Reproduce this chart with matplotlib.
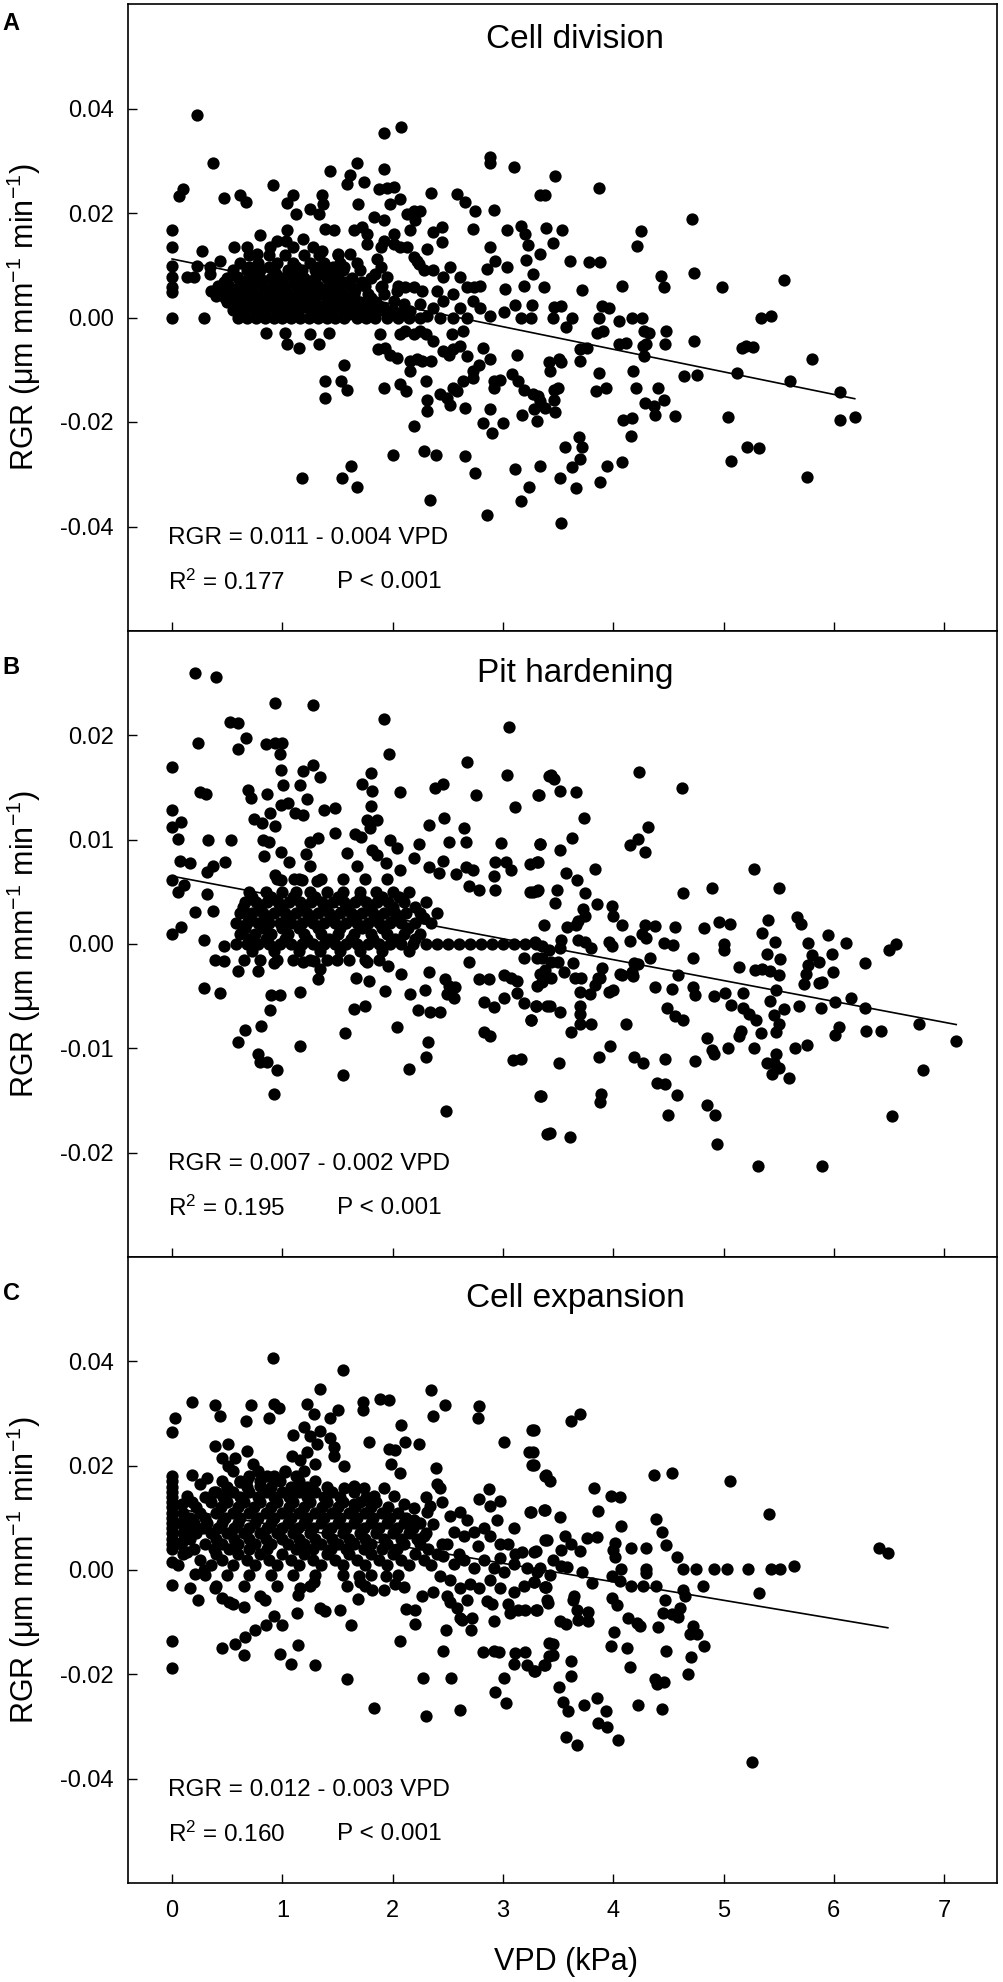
import matplotlib
matplotlib.use("Agg")
import matplotlib.pyplot as plt
from matplotlib.ticker import FormatStrFormatter

plt.rcParams['font.family'] = ['Liberation Sans', 'DejaVu Sans']
plt.rcParams['mathtext.fontset'] = 'custom'
plt.rcParams['mathtext.rm'] = 'Liberation Sans'
plt.rcParams['mathtext.it'] = 'Liberation Sans:italic'
plt.rcParams['axes.unicode_minus'] = False

# ---------------- data ----------------
titles = ["Cell division", "Pit hardening", "Cell expansion"]
letters = ["A", "B", "C"]
equations = ["RGR = 0.011 - 0.004 VPD", "RGR = 0.007 - 0.002 VPD", "RGR = 0.012 - 0.003 VPD"]
r2_texts = ["R$^2$ = 0.177", "R$^2$ = 0.195", "R$^2$ = 0.160"]
p_text = "P < 0.001"

fit_intercept = [0.0112, 0.0065, 0.0119]
fit_slope = [-0.00432, -0.0020, -0.00354]
fit_x_end = [6.19, 7.11, 6.49]

ylims = [(-0.06, 0.06), (-0.03, 0.03), (-0.06, 0.06)]
yticks = [[-0.04, -0.02, 0.0, 0.02, 0.04],
          [-0.02, -0.01, 0.0, 0.01, 0.02],
          [-0.04, -0.02, 0.0, 0.02, 0.04]]
xticks = [0, 1, 2, 3, 4, 5, 6, 7]

# panel A: cell division, scattered points (VPD, RGR)
a_pts = [
    (0.227, 0.0387), (0.372, 0.0296), (0.06, 0.0232), (0.10, 0.0246),
    (0.0, 0.0167), (0.0, 0.0135), (0.0, 0.0099), (0.0, 0.0077), (0.0, 0.0058), (0.0, 0.0048), (0.0, 0.0),
    (0.287, 0.0), (0.272, 0.0127), (0.227, 0.0099), (0.136, 0.0078), (0.196, 0.0078),
    (0.347, 0.0096), (0.347, 0.0083), (0.438, 0.0109), (0.35, 0.005), (0.40, 0.0042),
    (0.474, 0.0228), (0.62, 0.0234), (0.67, 0.0222), (0.915, 0.0254), (1.04, 0.0219), (1.10, 0.0234),
    (1.12, 0.0199), (1.25, 0.0208), (1.33, 0.0199), (1.36, 0.0234), (1.37, 0.0218), (1.43, 0.028),
    (1.39, 0.017), (1.47, 0.0167), (1.586, 0.0256), (1.616, 0.0272), (1.677, 0.0295), (1.737, 0.026),
    (1.69, 0.0217), (1.646, 0.0168), (1.72, 0.0173), (1.767, 0.016), (1.767, 0.0141),
    (1.92, 0.0354), (2.08, 0.0365), (1.92, 0.0284), (1.873, 0.0245), (1.949, 0.0247), (2.01, 0.025),
    (1.979, 0.0218), (2.07, 0.0226), (2.19, 0.0204), (2.25, 0.0204), (2.205, 0.0186),
    (2.35, 0.0238), (2.58, 0.0237), (2.66, 0.0221), (2.75, 0.0204), (2.73, 0.017), (2.885, 0.0308),
    (2.885, 0.0295), (2.92, 0.0205), (2.37, 0.0163), (2.447, 0.0174), (2.447, 0.0144), (2.31, 0.0131),
    (2.19, 0.0115), (2.885, 0.0135), (2.93, 0.0109), (2.855, 0.0093), (2.795, 0.0061), (2.734, 0.0058),
    (1.04, 0.0167), (0.95, 0.0147), (0.80, 0.0157), (0.56, 0.0135), (0.68, 0.0135), (0.77, 0.0122),
    (0.89, 0.0135), (1.03, 0.0147), (1.10, 0.0135), (1.19, 0.0151), (1.28, 0.0135), (1.36, 0.0128),
    (1.50, 0.0122), (1.556, 0.0096), (1.616, 0.0122), (1.86, 0.0112), (1.89, 0.0135), (1.92, 0.0147),
    (2.01, 0.0141), (2.07, 0.0135), (2.13, 0.0135), (2.22, 0.0109), (2.16, 0.0167), (1.83, 0.0192),
    (1.92, 0.0186), (2.13, 0.0199), (2.01, 0.016), (1.89, 0.0096), (1.95, 0.0077), (1.89, 0.0058),
    (1.84, 0.0083), (2.236, 0.0103), (2.28, 0.009), (2.37, 0.009), (2.46, 0.0077), (2.52, 0.0096),
    (2.61, 0.0077), (2.67, 0.0058), (2.55, 0.0045), (2.46, 0.0032), (2.37, 0.0019), (2.61, 0.0019),
    (2.73, 0.0032), (2.795, 0.0019), (2.885, 0.0003), (2.67, 0.0), (2.55, 0.0), (2.43, 0.0), (2.31, 0.0003),
    (2.04, 0.0051), (2.115, 0.0058), (2.19, 0.0058), (2.266, 0.0051), (2.40, 0.0051), (2.01, 0.0032),
    (2.10, 0.0026), (1.92, 0.0019), (1.767, 0.0032), (1.707, 0.0019), (1.646, 0.0006), (2.25, 0.0026),
    (2.16, 0.0013),
    (0.855, -0.0029), (1.027, -0.0029), (1.042, -0.0051), (1.148, -0.0058), (1.254, -0.0032),
    (1.33, -0.0051), (1.42, -0.0029), (1.56, -0.009), (1.39, -0.0122), (1.39, -0.0155), (1.53, -0.0122),
    (1.59, -0.0138), (1.18, -0.0308), (1.54, -0.0308), (1.62, -0.0285), (1.68, -0.0324),
    (1.867, -0.0061), (1.934, -0.0058), (1.979, -0.0071), (2.04, -0.0077), (1.888, -0.0032),
    (2.07, -0.0032), (2.115, -0.0026), (2.19, -0.0032), (2.25, -0.0026),
    (1.92, -0.0135), (2.07, -0.0128), (2.12, -0.0141), (2.19, -0.0208), (2.0, -0.0263), (2.28, -0.0256),
    (2.39, -0.0263), (2.34, -0.0349), (2.31, -0.0157), (2.31, -0.0179), (2.30, -0.0122),
    (2.43, -0.0147), (2.49, -0.0154), (2.52, -0.0167), (2.55, -0.0135), (2.58, -0.0141), (2.64, -0.0122),
    (2.66, -0.0266), (2.75, -0.0298), (2.66, -0.0173), (2.46, -0.0064), (2.51, -0.0071), (2.55, -0.0061),
    (2.61, -0.0054), (2.67, -0.0074), (2.73, -0.0103), (2.78, -0.009), (2.73, -0.0115),
    (2.82, -0.0058), (2.885, -0.008), (2.885, -0.0176), (2.915, -0.0135), (2.915, -0.0122),
    (2.82, -0.0202), (2.90, -0.0221), (2.16, -0.0083), (2.22, -0.008), (2.27, -0.0083), (2.35, -0.0083),
    (2.16, -0.0103), (2.30, -0.0032), (2.37, -0.0045), (2.54, -0.0032), (2.64, -0.0026),
    (2.855, -0.0378), (3.53, -0.0394),
    (3.096, 0.0288), (3.47, 0.0271), (3.87, 0.0247), (3.34, 0.0235), (3.38, 0.0235), (4.71, 0.0189),
    (3.04, 0.0167), (3.16, 0.0175), (3.20, 0.016), (3.23, 0.0138), (3.39, 0.0171), (3.54, 0.0167),
    (3.45, 0.0143), (3.34, 0.0121), (3.21, 0.011), (3.61, 0.0109), (3.78, 0.0106), (3.88, 0.0106),
    (4.25, 0.0165), (4.22, 0.0137), (4.73, 0.0085), (4.43, 0.008), (4.46, 0.0058), (4.99, 0.0058),
    (5.55, 0.0071), (3.04, 0.0096), (3.02, 0.0054), (3.19, 0.0061), (3.27, 0.0083), (3.37, 0.0059),
    (3.11, 0.0024), (3.26, 0.0024), (3.01, 0.001), (3.16, 0.0), (3.25, 0.0), (3.46, 0.002), (3.53, 0.0022),
    (3.45, 0.0), (3.63, 0.0), (3.57, -0.0019), (3.72, 0.0053), (3.90, 0.0022), (3.96, 0.0019), (3.87, 0.0),
    (4.05, -0.0006), (3.85, -0.0029), (3.91, -0.0026), (4.08, 0.006), (4.17, 0.0), (4.26, 0.0),
    (4.28, -0.0026), (4.32, -0.003), (4.48, -0.0026), (4.05, -0.0051), (4.12, -0.0049), (4.27, -0.0054),
    (4.30, -0.0051), (4.28, -0.0074), (4.47, -0.0051), (4.73, -0.0045), (3.70, -0.0061), (3.76, -0.0058),
    (3.70, -0.0083), (3.13, -0.0072), (3.42, -0.0086), (3.51, -0.008), (3.53, -0.0086), (3.43, -0.0102),
    (3.87, -0.0106), (4.18, -0.0103), (4.64, -0.0112), (4.76, -0.0111), (5.17, -0.0058), (5.20, -0.0054),
    (5.27, -0.0056), (5.34, 0.0), (5.43, 0.0003), (5.12, -0.0106), (5.80, -0.0079), (5.60, -0.0122),
    (6.06, -0.0142), (6.06, -0.0196), (6.19, -0.0191), (5.04, -0.019), (5.21, -0.0247), (5.32, -0.0249),
    (5.07, -0.0274), (5.76, -0.0306),
    (2.976, -0.0119), (3.08, -0.0109), (3.14, -0.0122), (3.19, -0.0138), (3.27, -0.0147), (3.32, -0.0151),
    (3.34, -0.016), (3.38, -0.0173), (3.47, -0.018), (3.28, -0.0176), (3.17, -0.0186), (3.0, -0.0202),
    (3.31, -0.0199), (3.46, -0.0138), (3.50, -0.0135), (3.46, -0.0157), (3.84, -0.0141), (3.93, -0.0135),
    (4.21, -0.0135), (4.41, -0.0135), (4.46, -0.0157), (4.29, -0.0163), (4.37, -0.017), (4.38, -0.0186),
    (4.56, -0.0189), (4.09, -0.0196), (4.17, -0.0192), (4.16, -0.0226), (3.69, -0.0229), (3.72, -0.0247),
    (3.56, -0.0248), (3.70, -0.0271), (3.63, -0.0287), (3.66, -0.0327), (3.52, -0.0308), (3.94, -0.0284),
    (4.08, -0.0277), (3.88, -0.0314), (3.11, -0.029), (3.34, -0.0284), (3.24, -0.0324), (3.16, -0.0351),
]
# panel A dense core: (RGR, [VPD, ...]) rows
a_core = [
    (0.0, [0.60, 0.68, 0.76, 0.84, 0.92, 1.00, 1.08, 1.16, 1.24, 1.32, 1.40, 1.48, 1.56, 1.68, 1.76,
           1.84, 1.95, 2.05, 2.15, 2.25]),
    (0.00075, [0.64, 0.80, 0.96, 1.12, 1.28, 1.44, 1.60, 1.74]),
    (0.0015, [0.55, 0.65, 0.75, 0.85, 0.95, 1.05, 1.15, 1.25, 1.35, 1.45, 1.55, 1.65, 1.80, 1.90, 2.00, 2.10]),
    (0.00225, [0.58, 0.72, 0.88, 1.04, 1.20, 1.36, 1.52, 1.70, 1.88]),
    (0.003, [0.50, 0.60, 0.70, 0.80, 0.90, 1.00, 1.10, 1.20, 1.30, 1.40, 1.50, 1.60, 1.70, 1.85]),
    (0.00375, [0.48, 0.66, 0.82, 0.98, 1.14, 1.30, 1.46, 1.62, 1.80]),
    (0.0045, [0.45, 0.55, 0.65, 0.75, 0.85, 0.95, 1.05, 1.15, 1.25, 1.35, 1.45, 1.55, 1.65, 1.78, 1.92]),
    (0.00525, [0.50, 0.68, 0.84, 1.00, 1.16, 1.32, 1.48, 1.66]),
    (0.006, [0.42, 0.52, 0.62, 0.72, 0.82, 0.92, 1.02, 1.12, 1.22, 1.32, 1.42, 1.52, 1.62, 1.75, 1.90, 2.05]),
    (0.00675, [0.47, 0.64, 0.80, 0.96, 1.12, 1.28, 1.44, 1.58, 1.72]),
    (0.0075, [0.50, 0.60, 0.70, 0.80, 0.90, 1.00, 1.10, 1.20, 1.30, 1.40, 1.50, 1.63, 1.80]),
    (0.00825, [0.55, 0.74, 0.94, 1.14, 1.34, 1.50]),
    (0.009, [0.55, 0.68, 0.80, 0.92, 1.05, 1.18, 1.30, 1.42, 1.55, 1.70]),
    (0.00975, [0.70, 0.88, 1.12, 1.32, 1.46]),
    (0.0105, [0.62, 0.78, 0.95, 1.10, 1.25, 1.38, 1.52, 1.68]),
    (0.012, [0.70, 0.88, 1.02, 1.20, 1.33, 1.50]),
]

# panel B: pit hardening
b_pts = [
    (0.205, 0.026), (0.396, 0.0256), (0.93, 0.0231), (1.275, 0.0229), (1.925, 0.0216),
    (0.0, 0.017), (0.0, 0.0128), (0.0, 0.0112), (0.085, 0.0117), (0.054, 0.0101), (0.076, 0.008),
    (0.16, 0.0078), (0.0, 0.0061), (0.05, 0.005), (0.106, 0.0057), (0.0, 0.001), (0.085, 0.0016),
    (0.205, 0.0031), (0.236, 0.0193), (0.25, 0.0146), (0.31, 0.0144), (0.323, 0.01), (0.317, 0.0069),
    (0.37, 0.0075), (0.32, 0.0048), (0.37, 0.0032), (0.29, 0.0004), (0.387, -0.0015), (0.468, -0.0016),
    (0.474, -0.0002), (0.29, -0.0042), (0.432, -0.0047), (0.483, 0.0079), (0.538, 0.01),
    (0.529, 0.0213), (0.598, 0.0212), (0.67, 0.0197), (0.598, 0.0187), (0.689, 0.0148), (0.716, 0.014),
    (0.74, 0.012), (0.816, 0.0116), (0.852, 0.0192), (0.861, 0.0144), (0.89, 0.0126), (0.93, 0.0113),
    (0.825, 0.01), (0.876, 0.0098), (0.837, 0.0084), (0.937, 0.0193), (0.997, 0.0193), (0.98, 0.0182),
    (0.99, 0.0167), (1.006, 0.0152), (0.99, 0.0133), (1.05, 0.0135), (1.11, 0.0126), (1.187, 0.0124),
    (1.157, 0.0152), (1.187, 0.0166), (1.278, 0.0172), (1.344, 0.016), (1.224, 0.0139), (0.99, 0.0088),
    (1.063, 0.0079), (0.937, 0.0066), (0.99, 0.0061), (1.248, 0.0098), (1.32, 0.0102), (1.217, 0.0086),
    (1.248, 0.0075), (1.109, 0.0062), (1.175, 0.0061), (1.314, 0.006), (1.375, 0.0128), (1.48, 0.013),
    (1.48, 0.0106), (1.586, 0.0087), (1.656, 0.0105), (1.713, 0.0103), (1.677, 0.0075), (1.722, 0.0153),
    (1.804, 0.0164), (1.813, 0.0147), (1.804, 0.0132), (1.767, 0.0119), (1.858, 0.0119), (1.792, 0.0111),
    (1.964, 0.0182), (2.063, 0.0146), (1.979, 0.01), (2.039, 0.0092), (1.813, 0.009), (1.858, 0.0085),
    (1.94, 0.0078), (2.19, 0.0082), (2.24, 0.0096), (2.063, 0.0071), (2.33, 0.0114), (2.38, 0.015),
    (2.456, 0.0153), (2.468, 0.0121), (2.514, 0.0098), (2.453, 0.008), (2.326, 0.0074), (2.423, 0.0068),
    (2.574, 0.0067), (2.674, 0.0174), (2.755, 0.0143), (2.643, 0.0111), (2.665, 0.0098), (2.668, 0.0074),
    (2.73, 0.0071), (2.695, 0.0056), (2.78, 0.0052), (3.057, 0.0208), (3.036, 0.0162), (3.11, 0.0131),
    (2.98, 0.0097), (2.93, 0.0079), (3.03, 0.0079), (3.07, 0.0071), (2.92, 0.0065), (2.93, 0.0052),
    (3.314, 0.0143), (3.338, 0.0096), (3.248, 0.0077), (3.314, 0.0079), (3.248, 0.005), (3.314, 0.0052),
    (3.414, 0.0161), (3.37, 0.0018),
    (0.595, -0.0026), (0.595, -0.0094), (0.665, -0.0082), (0.78, -0.0026), (0.81, -0.0079),
    (0.78, -0.0105), (0.861, -0.0113), (0.952, -0.0121), (0.80, -0.0113), (0.927, -0.0144),
    (0.89, -0.0063), (0.897, -0.0049), (0.982, -0.0049), (0.927, -0.0018), (1.163, -0.0046),
    (1.163, -0.0098), (1.32, -0.0034), (1.187, -0.0017), (1.284, -0.0016), (1.344, -0.0024),
    (1.495, -0.0015), (1.565, -0.0085), (1.55, -0.0126), (1.646, -0.0062), (1.752, -0.0059),
    (1.668, -0.0033), (1.782, -0.0035), (1.767, -0.0017), (1.873, -0.0015), (1.934, -0.0045),
    (1.958, -0.0021), (2.039, -0.008), (2.079, -0.0029), (2.154, -0.0048), (2.151, -0.012),
    (2.227, -0.0063), (2.296, -0.0044), (2.341, -0.0065), (2.432, -0.0065), (2.326, -0.0027),
    (2.32, -0.0094), (2.30, -0.0108), (2.483, -0.016), (2.477, -0.0034), (2.508, -0.004), (2.568, -0.0041),
    (2.49, -0.0048), (2.56, -0.0052), (2.695, -0.0017), (2.78, -0.0034), (2.87, -0.0034), (2.825, -0.0056),
    (2.92, -0.006), (2.825, -0.0084), (2.88, -0.0088), (3.006, -0.003), (3.07, -0.0033), (3.127, -0.0035),
    (3.006, -0.0052), (3.127, -0.0047), (3.088, -0.0111), (3.163, -0.011), (3.19, -0.0057), (3.25, -0.0073),
    (3.296, -0.0059), (3.332, -0.0146), (3.40, -0.0182), (3.19, -0.0013), (3.31, -0.0013), (3.34, -0.0029),
    (3.31, -0.004), (3.40, -0.0059),
    (3.44, 0.0162), (3.465, 0.0158), (3.324, 0.0143), (3.52, 0.0147), (3.66, 0.0146), (3.733, 0.0121),
    (4.233, 0.0165), (4.62, 0.015), (3.34, 0.0096), (3.515, 0.009), (3.63, 0.0102), (3.306, 0.0079),
    (3.576, 0.0068), (3.673, 0.0061), (3.833, 0.0072), (3.74, 0.0049), (3.31, 0.0051), (3.27, 0.005),
    (3.494, 0.0052), (3.47, 0.0039), (4.15, 0.0095), (4.227, 0.0101), (4.288, 0.0088), (4.318, 0.0112),
    (4.636, 0.0049), (4.894, 0.0054), (5.28, 0.0072), (5.506, 0.0054), (3.85, 0.0038), (3.985, 0.0036),
    (4.0, 0.0027), (3.727, 0.0034), (3.742, 0.0027), (3.68, 0.0022), (3.66, 0.0018), (3.585, 0.0016),
    (4.076, 0.0018), (4.288, 0.0018), (4.38, 0.0017), (4.557, 0.0016), (4.824, 0.0015), (4.955, 0.0021),
    (5.06, 0.0019), (5.4, 0.0023), (5.35, 0.0011), (5.667, 0.0026), (5.706, 0.0019), (5.948, 0.0009),
    (6.115, 0.0001), (6.5, -0.0006), (6.56, 0.0), (5.77, 0.0001), (3.965, 0.0002), (3.985, -0.0002),
    (4.15, 0.0003), (4.258, 0.001), (4.3, 0.0006), (4.46, 0.0001), (4.545, -0.0001), (5.0, 0.0),
    (5.006, -0.0006), (5.47, 0.0002), (6.28, -0.0018), (3.53, 0.0004), (3.68, 0.0004), (3.74, 0.0002),
    (3.80, -0.0004), (3.29, 0.0002), (3.35, -0.0002), (3.42, -0.0006), (3.35, -0.0013), (3.44, -0.0017),
    (3.38, -0.0025), (3.50, -0.0017), (3.55, -0.0027), (3.44, -0.0033), (3.35, -0.0036), (3.52, -0.0004),
    (3.636, -0.0018), (3.894, -0.0023), (3.864, -0.0033), (4.06, -0.0029), (4.167, -0.0027),
    (4.19, -0.0018), (4.227, -0.0019), (4.333, -0.0013), (4.59, -0.003), (4.727, -0.0013), (4.38, -0.0041),
    (4.53, -0.0043), (4.727, -0.0041), (4.742, -0.0049), (4.918, -0.005), (5.01, -0.0047), (5.136, -0.0022),
    (5.29, -0.0025), (5.35, -0.0024), (5.42, -0.0026), (5.50, -0.003), (5.394, -0.001), (5.515, -0.0014),
    (5.476, -0.0044), (5.18, -0.0047), (5.067, -0.0058), (5.18, -0.0061), (5.233, -0.0067), (5.294, -0.0073),
    (5.424, -0.0055), (5.455, -0.0068), (5.545, -0.0062), (5.5, -0.0077), (5.479, -0.0084), (5.688, -0.0059),
    (5.727, -0.0038), (5.748, -0.0029), (5.80, -0.0011), (5.77, -0.002), (5.864, -0.0017), (5.985, -0.001),
    (5.99, -0.0027), (5.87, -0.0037), (5.89, -0.0036), (5.88, -0.0061), (6.015, -0.0056), (6.158, -0.0052),
    (6.28, -0.0061), (6.045, -0.008), (6.015, -0.0087), (6.288, -0.0083), (6.424, -0.0083), (5.76, -0.0097),
    (5.645, -0.01), (5.28, -0.01), (5.158, -0.0083), (5.136, -0.0088), (5.34, -0.0085), (5.476, -0.0105),
    (5.394, -0.0114), (5.455, -0.0114), (5.44, -0.0125), (5.5, -0.0119), (5.597, -0.0128), (4.85, -0.009),
    (4.894, -0.0102), (4.918, -0.0105), (5.04, -0.01), (4.742, -0.0112), (4.47, -0.011), (4.394, -0.0133),
    (4.47, -0.0134), (4.58, -0.0145), (4.494, -0.0164), (4.85, -0.0154), (4.924, -0.0164), (4.942, -0.0192),
    (5.312, -0.0213), (5.897, -0.0213), (6.77, -0.0077), (6.81, -0.0121), (7.106, -0.0093), (6.524, -0.0165),
    (4.485, -0.0061), (4.56, -0.0069), (4.63, -0.0073), (4.12, -0.0077), (3.97, -0.0098), (3.873, -0.0108),
    (4.19, -0.0108), (4.27, -0.0114), (3.888, -0.0144), (3.88, -0.0151), (3.342, -0.0146), (3.506, -0.0114),
    (3.43, -0.0181), (3.61, -0.0185), (3.62, -0.0084), (3.7, -0.0077), (3.8, -0.0077), (3.697, -0.0059),
    (3.7, -0.0067), (3.52, -0.0065), (3.424, -0.0059), (3.258, -0.0073), (3.3, -0.0059), (3.697, -0.0046),
    (3.79, -0.0048), (3.65, -0.0033), (3.712, -0.0033), (3.833, -0.0039), (3.88, -0.0033), (3.96, -0.0046),
    (4.0, -0.0044), (4.076, -0.003), (4.18, -0.0031),
]
b_core = [
    (-0.0015, [0.65, 0.80, 0.95, 1.10, 1.25, 1.40, 1.60, 1.75]),
    (-0.0007, [0.72, 0.92, 1.15, 1.34, 1.52, 1.70, 1.90, 2.15]),
    (0.0, [0.58, 0.68, 0.78, 0.88, 0.98, 1.08, 1.18, 1.28, 1.38, 1.48, 1.58, 1.68, 1.78, 1.88, 1.98, 2.08,
           2.18, 2.30, 2.40, 2.50, 2.60, 2.70, 2.80, 2.90, 3.00, 3.10, 3.20, 3.30]),
    (0.0005, [0.70, 0.85, 1.02, 1.22, 1.42, 1.62, 1.82, 2.02, 2.20]),
    (0.001, [0.62, 0.75, 0.90, 1.05, 1.20, 1.35, 1.50, 1.65, 1.80, 1.95, 2.10, 2.25]),
    (0.0015, [0.66, 0.82, 1.00, 1.15, 1.32, 1.52, 1.72, 1.90, 2.14]),
    (0.002, [0.58, 0.68, 0.78, 0.88, 0.98, 1.08, 1.18, 1.28, 1.38, 1.48, 1.58, 1.68, 1.78, 1.88, 1.98, 2.08,
             2.20, 2.35]),
    (0.0025, [0.70, 0.86, 1.04, 1.24, 1.44, 1.64, 1.84, 2.04, 2.28]),
    (0.003, [0.62, 0.72, 0.82, 0.92, 1.02, 1.12, 1.22, 1.32, 1.42, 1.52, 1.62, 1.72, 1.82, 1.92, 2.02, 2.12,
             2.25, 2.40]),
    (0.0035, [0.64, 0.80, 0.98, 1.18, 1.38, 1.58, 1.80, 2.00, 2.20]),
    (0.004, [0.66, 0.76, 0.86, 0.96, 1.06, 1.16, 1.26, 1.36, 1.46, 1.56, 1.66, 1.76, 1.86, 1.96, 2.10, 2.30]),
    (0.0045, [0.72, 0.90, 1.10, 1.30, 1.50, 1.70, 1.90, 2.06]),
    (0.005, [0.70, 0.85, 1.00, 1.12, 1.25, 1.40, 1.55, 1.70, 1.85, 2.00, 2.15]),
    (0.0062, [0.95, 1.15, 1.35, 1.55, 1.75, 1.95]),
]

# panel C: cell expansion
c_pts = [
    (0.912, 0.0406), (1.55, 0.0383), (0.0, 0.0264), (0.03, 0.0291), (0.18, 0.0322), (0.393, 0.0316),
    (0.432, 0.0295), (0.716, 0.0316), (0.67, 0.0286), (0.876, 0.0291), (0.92, 0.0318), (0.967, 0.031),
    (1.224, 0.0318), (1.284, 0.0299), (1.344, 0.0347), (1.435, 0.0291), (1.502, 0.0307), (1.728, 0.0322),
    (1.728, 0.0307), (1.888, 0.0328), (1.967, 0.0326), (2.347, 0.0346), (2.477, 0.0316), (2.366, 0.0295),
    (2.785, 0.0314), (2.77, 0.0291), (2.08, 0.0278), (3.263, 0.0268), (3.006, 0.0245), (3.233, 0.0226),
    (3.263, 0.0201), (3.384, 0.018), (0.387, 0.0238), (0.508, 0.0241), (0.68, 0.0228), (0.734, 0.0203),
    (0.453, 0.0215), (0.508, 0.0199), (0.574, 0.0215), (1.094, 0.0259), (1.782, 0.0245), (1.97, 0.0231),
    (2.024, 0.023), (2.109, 0.0245), (2.236, 0.0241), (1.988, 0.0203), (2.07, 0.0185), (2.396, 0.0195),
    (2.402, 0.0165), (2.426, 0.0157), (2.447, 0.013), (2.305, 0.014), (2.341, 0.0123), (2.87, 0.0156),
    (2.78, 0.0136), (2.886, 0.0123), (2.977, 0.0133), (3.248, 0.0111), (3.37, 0.0115), (3.097, 0.008),
    (3.278, 0.0034), (3.384, 0.0057), (1.556, 0.0199), (0.181, 0.0182),
    (1.20, 0.0274), (1.254, 0.0257), (1.314, 0.0241), (1.344, 0.0266), (1.435, 0.0253), (1.465, 0.0235),
    (1.224, 0.0226), (1.30, 0.0203), (1.163, 0.0211), (1.088, 0.0218), (1.027, 0.0188), (0.92, 0.0172),
    (0.86, 0.018), (0.80, 0.0161), (0.68, 0.0172), (0.62, 0.0169), (0.50, 0.0157), (0.378, 0.0149),
    (0.317, 0.0176), (0.257, 0.0165), (0.136, 0.0142), (0.09, 0.0126), (0.09, 0.0054), (0.136, 0.0034),
    (0.21, -0.0008), (0.287, 0.0), (1.465, 0.0218), (1.556, 0.0157), (1.647, 0.0161), (1.737, 0.0157),
    (1.828, 0.0142), (1.918, 0.0157), (2.01, 0.0142), (2.10, 0.0126), (2.19, 0.0119), (1.767, 0.0134),
    (1.647, 0.0126),
    (0.0, 0.0015), (0.0, -0.0029), (0.0, -0.0136), (0.0, -0.0188), (0.166, -0.0034), (0.236, -0.0057),
    (0.393, -0.0034), (0.453, -0.0054), (0.514, -0.0061), (0.553, -0.0065), (0.65, -0.0071),
    (0.453, -0.0149), (0.574, -0.0142), (0.65, -0.0163), (0.665, -0.0128), (0.755, -0.0115),
    (0.852, -0.0105), (0.927, -0.0088), (0.80, -0.005), (0.846, -0.0057), (0.982, -0.0161), (1.08, -0.018),
    (1.139, -0.0144), (0.997, -0.0105), (1.133, -0.0083), (1.142, -0.0048), (1.163, -0.0034), (1.3, -0.0182),
    (1.344, -0.0073), (1.39, -0.0079), (1.284, -0.0023), (1.52, -0.0077), (1.586, -0.0209), (1.622, -0.0105),
    (1.586, -0.0031), (1.683, -0.0056), (1.692, -0.0011), (1.707, -0.0023), (1.813, -0.0038), (1.828, -0.0264),
    (1.918, -0.0038), (1.943, -0.0011), (2.024, -0.0027), (2.10, -0.0033), (2.07, -0.0136), (2.124, -0.0074),
    (2.205, -0.0077), (2.2, -0.0103), (2.266, -0.005), (2.275, -0.0207), (2.305, -0.028), (2.37, -0.0042),
    (2.456, -0.0156), (2.486, -0.0115), (2.529, -0.0207), (2.613, -0.0268), (2.523, -0.0061), (2.583, -0.0073),
    (2.613, -0.0092), (2.63, -0.0096), (2.71, -0.0115), (2.72, -0.0092), (2.67, -0.0057), (2.78, -0.0034),
    (2.855, -0.0059), (2.9, -0.0065), (2.915, -0.0097), (2.82, -0.0157), (2.915, -0.0156), (2.96, -0.0157),
    (2.93, -0.0234), (3.01, -0.0207), (3.03, -0.0254), (3.097, -0.018), (3.11, -0.0159), (3.2, -0.0157),
    (3.218, -0.0182), (3.278, -0.0193), (3.37, -0.0182), (3.414, -0.014), (3.414, -0.0165), (3.05, -0.0065),
    (3.066, -0.0083), (3.14, -0.0077), (3.2, -0.0077), (3.31, -0.0077), (3.097, -0.0042), (3.19, -0.0031),
    (3.278, -0.0023), (3.384, -0.0033), (3.4, -0.0057), (2.977, 0.0023), (3.11, 0.0031), (3.17, 0.0034),
    (2.523, 0.0103), (2.613, 0.0111), (2.674, 0.0096), (2.553, 0.0073), (2.644, 0.0065), (2.734, 0.0073),
    (2.825, 0.008), (2.886, 0.0065), (2.977, 0.005), (2.49, 0.005), (2.456, 0.0027), (2.553, 0.0011),
    (2.644, 0.0019), (2.734, 0.0004), (2.825, 0.0019), (2.915, 0.0004), (3.006, -0.0004), (3.097, 0.0011),
    (3.218, 0.0004), (3.31, -0.0004), (2.426, -0.0011), (2.523, -0.0019), (2.613, -0.0034), (2.704, -0.0027),
    (2.886, -0.0019), (2.977, -0.0034), (2.49, -0.005), (2.37, 0.0088), (2.28, 0.0065), (2.19, 0.0096),
    (2.31, 0.0111), (2.77, 0.0046), (3.05, 0.005), (2.946, 0.0096),
    (3.697, 0.0299), (3.62, 0.0285), (3.28, 0.0268), (3.27, 0.0226), (3.28, 0.0201), (3.394, 0.0182),
    (3.424, 0.017), (4.373, 0.0182), (4.536, 0.0185), (5.06, 0.0171), (3.824, 0.0157), (3.976, 0.0142),
    (4.06, 0.0139), (3.864, 0.0113), (5.41, 0.0107), (3.258, 0.0111), (3.38, 0.0115), (3.515, 0.0102),
    (4.385, 0.0098), (4.07, 0.0084), (4.44, 0.0073), (4.476, 0.0048), (4.576, 0.0025), (6.41, 0.0042),
    (6.494, 0.0032), (3.56, 0.0065), (3.62, 0.005), (3.697, 0.0037), (3.758, 0.0061), (3.855, 0.0063),
    (3.403, 0.0057), (3.303, 0.0036), (3.524, 0.0038), (3.455, 0.0019), (3.53, 0.0008), (3.585, 0.0005),
    (4.015, 0.0051), (4.0, 0.0038), (4.015, 0.0025), (4.16, 0.0042), (4.294, 0.0042), (3.333, 0.0004),
    (3.424, -0.0009), (3.38, -0.0033), (3.718, -0.0004), (4.07, 0.0002), (4.294, 0.0002), (4.3, -0.0005),
    (4.636, 0.0002), (4.75, 0.0002), (4.918, 0.0002), (5.03, 0.0002), (5.22, 0.0002), (5.433, 0.0002),
    (5.51, 0.0002), (5.636, 0.0008), (3.985, -0.0011), (4.06, -0.0021), (4.16, -0.0031), (3.81, -0.0025),
    (4.27, -0.0031), (4.39, -0.0031), (4.636, -0.0038), (4.65, -0.005), (4.818, -0.0031), (5.318, -0.0044),
    (3.28, -0.0023), (3.39, -0.0033), (3.41, -0.0064), (3.303, -0.0077), (3.645, -0.005), (3.636, -0.0057),
    (3.985, -0.0054), (4.03, -0.0067), (4.47, -0.0057), (4.45, -0.0083), (4.53, -0.0084), (4.606, -0.0073),
    (4.59, -0.009), (3.667, -0.0077), (3.773, -0.008), (3.682, -0.0096), (3.773, -0.0097), (3.515, -0.0097),
    (3.576, -0.0103), (4.136, -0.0092), (4.212, -0.0102), (4.24, -0.0107), (4.41, -0.011), (4.727, -0.0107),
    (4.7, -0.0123), (4.758, -0.0123), (4.006, -0.0119), (4.824, -0.0146), (3.455, -0.0142), (3.455, -0.0163),
    (3.979, -0.0146), (4.127, -0.0149), (4.476, -0.0156), (4.706, -0.0166), (3.615, -0.0174), (3.62, -0.0203),
    (3.38, -0.0182), (3.294, -0.0193), (4.15, -0.0186), (4.676, -0.0199), (4.379, -0.0209), (4.394, -0.0218),
    (4.464, -0.0215), (3.51, -0.0225), (3.545, -0.0253), (3.59, -0.027), (3.733, -0.0258), (3.855, -0.0245),
    (3.93, -0.027), (3.864, -0.0293), (3.94, -0.03), (4.227, -0.0259), (4.44, -0.0267), (3.57, -0.032),
    (3.676, -0.0335), (4.045, -0.0326), (5.258, -0.0369),
]
# RGR values stacked at VPD = 0
c_col0 = [0.004, 0.005, 0.006, 0.007, 0.008, 0.009, 0.010, 0.011, 0.012, 0.013, 0.014, 0.015,
          0.016, 0.017, 0.018]
c_core = [
    (-0.003, [0.40, 0.65, 0.95, 1.25, 1.75]),
    (-0.001, [0.30, 0.50, 0.70, 0.90, 1.10, 1.30, 1.55, 1.80, 2.05]),
    (0.001, [0.05, 0.35, 0.55, 0.75, 0.95, 1.15, 1.35, 1.55, 1.75, 1.95, 2.15, 2.35]),
    (0.002, [0.25, 0.45, 0.68, 0.88, 1.08, 1.28, 1.48, 1.68, 1.88, 2.08, 2.28]),
    (0.003, [0.10, 0.40, 0.60, 0.80, 1.00, 1.20, 1.40, 1.60, 1.80, 2.00, 2.20, 2.40, 2.60]),
    (0.004, [0.20, 0.38, 0.52, 0.70, 0.86, 1.12, 1.28, 1.44, 1.58, 1.74, 1.90, 2.04, 2.32]),
    (0.005, [0.08, 0.30, 0.45, 0.60, 0.75, 0.90, 1.05, 1.20, 1.35, 1.50, 1.65, 1.80, 1.95, 2.10, 2.25, 2.45]),
    (0.006, [0.16, 0.40, 0.56, 0.70, 0.85, 1.00, 1.15, 1.30, 1.45, 1.60, 1.75, 1.92, 2.08, 2.22]),
    (0.007, [0.10, 0.22, 0.35, 0.50, 0.65, 0.80, 0.95, 1.10, 1.25, 1.40, 1.55, 1.70, 1.85, 2.00, 2.15, 2.30]),
    (0.008, [0.15, 0.28, 0.42, 0.56, 0.70, 0.86, 1.00, 1.14, 1.28, 1.44, 1.58, 1.74, 1.88, 2.04, 2.18]),
    (0.009, [0.08, 0.20, 0.32, 0.45, 0.60, 0.75, 0.90, 1.05, 1.20, 1.35, 1.50, 1.65, 1.80, 1.95, 2.10, 2.25]),
    (0.010, [0.16, 0.30, 0.48, 0.62, 0.78, 0.92, 1.08, 1.22, 1.38, 1.52, 1.68, 1.82, 1.98, 2.12]),
    (0.011, [0.10, 0.25, 0.40, 0.55, 0.70, 0.85, 1.00, 1.15, 1.30, 1.45, 1.60, 1.75, 1.90, 2.05]),
    (0.012, [0.22, 0.44, 0.60, 0.74, 0.90, 1.06, 1.20, 1.36, 1.50, 1.66, 1.80, 1.96]),
    (0.013, [0.18, 0.35, 0.50, 0.65, 0.80, 0.95, 1.10, 1.25, 1.40, 1.55, 1.70, 1.85]),
    (0.014, [0.30, 0.46, 0.62, 0.78, 0.92, 1.06, 1.22, 1.38, 1.52, 1.76]),
    (0.015, [0.40, 0.55, 0.70, 0.85, 1.00, 1.15, 1.30, 1.45, 1.65]),
    (0.016, [0.50, 0.68, 0.90, 1.08, 1.22, 1.40]),
    (0.017, [0.45, 0.62, 0.80, 0.98, 1.15, 1.30]),
    (0.018, [0.70, 0.92, 1.12]),
    (0.019, [0.55, 0.78, 1.02, 1.20]),
]


def collect(points, core, col0=None):
    xs = [p[0] for p in points]
    ys = [p[1] for p in points]
    for yv, row in core:
        xs += row
        ys += [yv] * len(row)
    if col0:
        xs += [0.0] * len(col0)
        ys += col0
    return xs, ys


panels = [collect(a_pts, a_core), collect(b_pts, b_core), collect(c_pts, c_core, c_col0)]

# ---------------- figure ----------------
W, H = 1004, 1982
fig = plt.figure(figsize=(W / 100, H / 100), dpi=100)

left_px, right_px = 128, 997
tops_px = [4, 631, 1257]
bots_px = [631, 1257, 1883]
title_y_px = [39, 673, 1299]
letter_y_px = [24, 667, 1293]

for i in range(3):
    ax = fig.add_axes([left_px / W, 1 - bots_px[i] / H,
                       (right_px - left_px) / W, (bots_px[i] - tops_px[i]) / H])
    xs, ys = panels[i]
    ax.scatter(xs, ys, s=78, c='black', linewidths=0, zorder=3)
    lx = [0.0, fit_x_end[i]]
    ly = [fit_intercept[i] + fit_slope[i] * v for v in lx]
    ax.plot(lx, ly, color='black', lw=1.2, zorder=4)

    ax.set_xlim(-0.4, 7.48)
    ax.set_ylim(*ylims[i])
    ax.set_xticks(xticks)
    ax.set_yticks(yticks[i])
    ax.yaxis.set_major_formatter(FormatStrFormatter('%.2f'))
    ax.tick_params(direction='in', length=6.7, width=1.0, labelsize=17, pad=10,
                   top=False, right=False)
    ax.tick_params(axis='x', pad=12)
    if i < 2:
        ax.tick_params(axis='x', labelbottom=False)
    for sp in ax.spines.values():
        sp.set_linewidth(1.2)

    h = bots_px[i] - tops_px[i]
    ax.text(0.046, 92.5 / h, equations[i], transform=ax.transAxes, fontsize=17.5, va='center', ha='left')
    ax.text(0.046, 48.5 / h, r2_texts[i], transform=ax.transAxes, fontsize=17.5, va='center', ha='left')
    ax.text(0.2405, 48.5 / h, p_text, transform=ax.transAxes, fontsize=17.5, va='center', ha='left')

    fig.text(575 / W, 1 - title_y_px[i] / H, titles[i], fontsize=24, ha='center', va='center')
    fig.text(11 / W, 1 - letter_y_px[i] / H, letters[i], fontsize=17, fontweight='bold',
             ha='center', va='center')
    fig.text(24 / W, 1 - (tops_px[i] + bots_px[i]) / 2 / H, 'RGR (μm mm$^{-1}$ min$^{-1}$)',
             fontsize=22, rotation=90, ha='center', va='center')

fig.text(566 / W, 1 - 1962 / H, 'VPD (kPa)', fontsize=22, ha='center', va='center')

fig.savefig('out.png', dpi=100)
